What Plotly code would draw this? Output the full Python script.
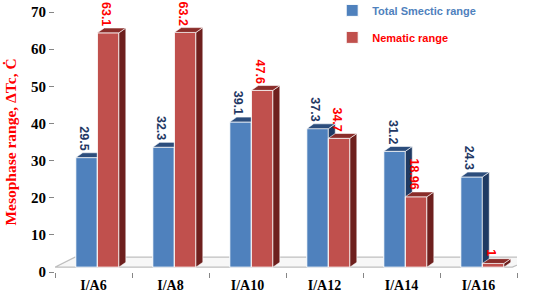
import plotly.graph_objects as go

categories = ["I/A6", "I/A8", "I/A10", "I/A12", "I/A14", "I/A16"]
smectic = [29.5, 32.3, 39.1, 37.3, 31.2, 24.3]
nematic = [63.1, 63.2, 47.6, 34.7, 18.96, 1]
smectic_labels = ["29.5", "32.3", "39.1", "37.3", "31.2", "24.3"]
nematic_labels = ["63.1", "63.2", "47.6", "34.7", "18.96", "1"]
y_ticks = [0, 10, 20, 30, 40, 50, 60, 70]

BASE = 1.3      # raised floor (3D look)
W = 0.28        # bar width (category units)
DX = 0.09       # depth in x
DY = 1.3        # depth in y
OFF_B, OFF_R = -0.09, 0.19
LABEL_FS = 12.5

BLUE, BLUE_SIDE, BLUE_TOP = "#4F81BD", "#1F3A63", "#2C4D7C"
RED, RED_SIDE, RED_TOP = "#C0504D", "#6E201E", "#8A2D2A"

fig = go.Figure()


def faces(vals, off):
    sx, sy, tx, ty = [], [], [], []
    for i, v in enumerate(vals):
        xl = i + off - W / 2
        xr = i + off + W / 2
        b, t = BASE, BASE + v
        sx += [xr, xr + DX, xr + DX, xr, xr, None]
        sy += [b, b + DY, t + DY, t, b, None]
        tx += [xl, xl + DX, xr + DX, xr, xl, None]
        ty += [t, t + DY, t + DY, t, t, None]
    return sx, sy, tx, ty


def add_series(vals, off, name, front, side, top, z):
    xs = [i + off for i in range(len(vals))]
    fig.add_trace(go.Bar(
        x=xs, y=vals, base=BASE, width=W, name=name,
        marker=dict(color=front, line=dict(color="white", width=1)),
        legendgroup=name, zorder=z))
    sx, sy, tx, ty = faces(vals, off)
    fig.add_trace(go.Scatter(x=sx, y=sy, mode="lines", fill="toself",
                             fillcolor=side, line=dict(color="white", width=0.6),
                             showlegend=False, hoverinfo="skip", zorder=z + 1))
    fig.add_trace(go.Scatter(x=tx, y=ty, mode="lines", fill="toself",
                             fillcolor=top, line=dict(color="white", width=0.6),
                             showlegend=False, hoverinfo="skip", zorder=z + 1))


add_series(smectic, OFF_B,
           "<span style='color:#4F81BD'><b>Total Smectic range</b></span>",
           BLUE, BLUE_SIDE, BLUE_TOP, 0)
add_series(nematic, OFF_R,
           "<span style='color:#FF0000'><b>Nematic range</b></span>",
           RED, RED_SIDE, RED_TOP, 2)


def text_len(s):
    return sum((0.28 if c == "." else 0.556) for c in s) * LABEL_FS


annotations = []
for vals, labs, off, col in ((smectic, smectic_labels, OFF_B, "#1F3864"),
                             (nematic, nematic_labels, OFF_R, "#FF0000")):
    for i, (v, lab) in enumerate(zip(vals, labs)):
        annotations.append(dict(
            x=i + off - 0.03, y=v + BASE + DY, text="<b>" + lab + "</b>",
            textangle=90, showarrow=False, yanchor="middle", xanchor="center",
            yshift=2 + text_len(lab) / 2,
            font=dict(color=col, size=LABEL_FS, family="Liberation Sans")))

# floor
shapes = [dict(type="path", xref="x", yref="y", layer="below",
               path="M -0.5,1.3 L 5.44,1.3 L 5.74,4.0 L -0.24,4.0 Z",
               line=dict(color="#BFBFBF", width=1.2), fillcolor="#F7F7F7")]

fig.update_layout(
    width=536, height=298,
    margin=dict(l=55, r=19, t=12, b=26, autoexpand=False),
    paper_bgcolor="white", plot_bgcolor="white",
    barmode="overlay",
    showlegend=True,
    legend=dict(x=0.60, y=1.062, xanchor="left", yanchor="top",
                font=dict(size=11, family="Liberation Sans"),
                tracegroupgap=8, bgcolor="rgba(0,0,0,0)"),
    annotations=annotations,
    shapes=shapes,
    xaxis=dict(range=[-0.5, 5.5], tickmode="array",
               tickvals=list(range(len(categories))), ticktext=categories,
               ticks="", showgrid=False, zeroline=False,
               showline=True, linecolor="#868686", linewidth=1,
               tickfont=dict(family="Liberation Serif", size=14, color="black",
                             weight="bold"),
               minor=dict(tickvals=[i - 0.5 for i in range(len(categories) + 1)],
                          ticks="outside", ticklen=5, tickcolor="#868686")),
    yaxis=dict(range=[0, 70], tickvals=y_ticks, showgrid=False, zeroline=False,
               showline=True, linecolor="#868686", linewidth=1,
               ticks="outside", ticklen=5, tickcolor="#868686",
               tickfont=dict(family="Liberation Serif", size=15, color="black",
                             weight="bold"),
               title=dict(text="<b>Mesophase range, \u0394Tc, \u010a</b>",
                          font=dict(family="Liberation Serif", size=15.5, color="#FF0000"),
                          standoff=10)),
)

fig.write_html("out.html",
               config={"displayModeBar": False},
               post_script="document.body.style.margin='0';"
                           "document.body.style.padding='0';")
